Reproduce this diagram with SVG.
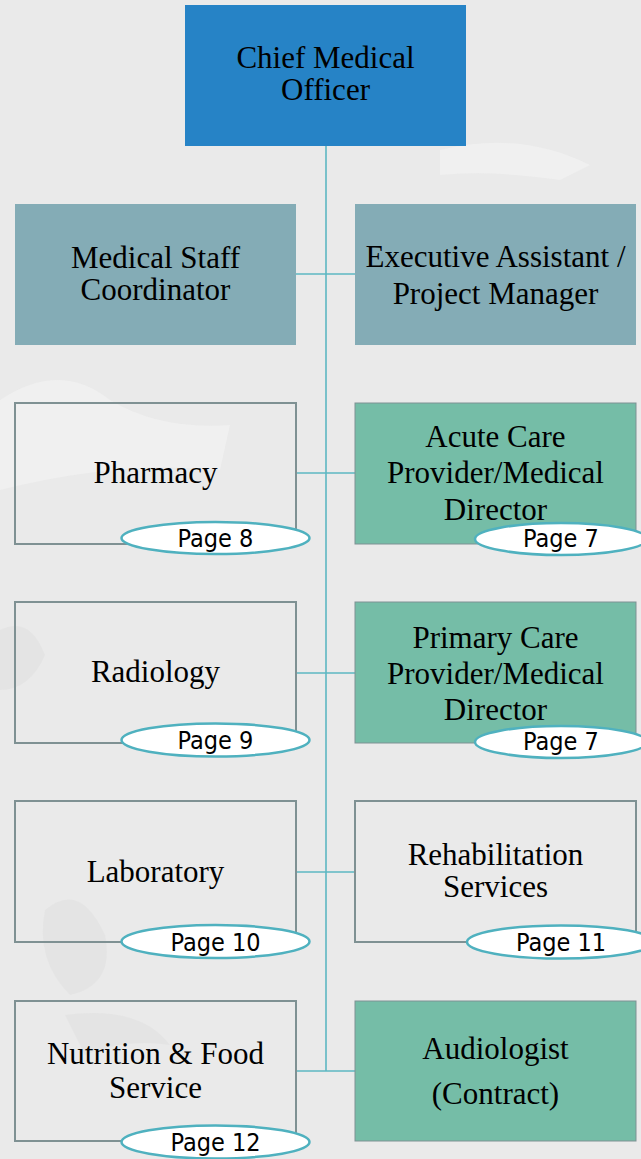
<svg xmlns="http://www.w3.org/2000/svg" width="641" height="1159" viewBox="0 0 641 1159">
<defs>
<style>
.bg{fill:#EAEAEA}
.blob{fill:#F3F3F3;opacity:0.6}
.dblob{fill:#DEDEDE;opacity:0.45}
.conn{stroke:#5DB7C2;stroke-width:1.6;fill:none}
.cmo{fill:#2683C6}
.blue{fill:#84ACB6}
.green{fill:#75BDA7;stroke:#7F9193;stroke-width:1}
.plain{fill:none;stroke:#7F9193;stroke-width:2}
.t{font-family:"Liberation Serif","Times New Roman",serif;font-size:31px;fill:#000;text-anchor:middle}
.pg{fill:#FFFFFF;stroke:#4FB1BF;stroke-width:2.5}
.pt{font-family:"DejaVu Sans Condensed","DejaVu Sans",sans-serif;font-stretch:condensed;font-size:25px;fill:#000;text-anchor:middle}
</style>
</defs>
<rect class="bg" x="0" y="0" width="641" height="1159"/>
<g id="background">
<path class="blob" d="M0 400 Q60 360 110 400 Q160 430 230 425 L220 470 Q120 460 0 490 Z"/>
<path class="blob" d="M440 150 Q520 130 590 165 L560 180 Q490 170 440 175 Z"/>
<path class="dblob" d="M45 910 Q80 880 105 935 Q115 985 70 995 Q35 960 45 910 Z"/>
<path class="dblob" d="M0 630 Q30 615 45 655 Q30 690 0 690 Z"/>
<path class="dblob" d="M65 1015 Q140 1005 170 1045 Q125 1038 85 1055 Z"/>
</g>
<g id="connectors">
<line class="conn" x1="326" y1="146" x2="326" y2="1071"/>
<line class="conn" x1="296" y1="274" x2="355" y2="274"/>
<line class="conn" x1="296" y1="473" x2="355" y2="473"/>
<line class="conn" x1="296" y1="673" x2="355" y2="673"/>
<line class="conn" x1="296" y1="872" x2="355" y2="872"/>
<line class="conn" x1="296" y1="1071" x2="355" y2="1071"/>
</g>
<g id="cmo">
<rect class="cmo" x="185" y="5" width="281" height="141"/>
<text class="t" x="325.5" y="68">Chief Medical</text>
<text class="t" x="325.5" y="100">Officer</text>
</g>
<g id="medical-staff-coordinator">
<rect class="blue" x="15" y="204" width="281" height="141"/>
<text class="t" x="155.5" y="268">Medical Staff</text>
<text class="t" x="155.5" y="300">Coordinator</text>
</g>
<g id="executive-assistant">
<rect class="blue" x="355" y="204" width="281" height="141"/>
<text class="t" x="495.5" y="267">Executive Assistant /</text>
<text class="t" x="495.5" y="304">Project Manager</text>
</g>
<g id="pharmacy">
<rect class="plain" x="15" y="403" width="281" height="141"/>
<text class="t" x="155.5" y="483">Pharmacy</text>
<ellipse class="pg" cx="215.5" cy="538" rx="94" ry="16"/>
<text class="pt" x="215.5" y="547">Page 8</text>
</g>
<g id="acute-care">
<rect class="green" x="355" y="403" width="281" height="141"/>
<text class="t" x="495.5" y="447">Acute Care</text>
<text class="t" x="495.5" y="483">Provider/Medical</text>
<text class="t" x="495.5" y="520">Director</text>
<ellipse class="pg" cx="561" cy="539" rx="86" ry="16"/>
<text class="pt" x="561" y="547">Page 7</text>
</g>
<g id="radiology">
<rect class="plain" x="15" y="602" width="281" height="141"/>
<text class="t" x="155.5" y="682">Radiology</text>
<ellipse class="pg" cx="215.5" cy="740" rx="94" ry="16.5"/>
<text class="pt" x="215.5" y="749">Page 9</text>
</g>
<g id="primary-care">
<rect class="green" x="355" y="602" width="281" height="141"/>
<text class="t" x="495.5" y="648">Primary Care</text>
<text class="t" x="495.5" y="684">Provider/Medical</text>
<text class="t" x="495.5" y="720">Director</text>
<ellipse class="pg" cx="561" cy="742" rx="86" ry="16"/>
<text class="pt" x="561" y="750">Page 7</text>
</g>
<g id="laboratory">
<rect class="plain" x="15" y="801" width="281" height="141"/>
<text class="t" x="155.5" y="882">Laboratory</text>
<ellipse class="pg" cx="215.5" cy="941.5" rx="94" ry="16.5"/>
<text class="pt" x="215.5" y="951">Page 10</text>
</g>
<g id="rehabilitation">
<rect class="plain" x="355" y="801" width="281" height="141"/>
<text class="t" x="495.5" y="865">Rehabilitation</text>
<text class="t" x="495.5" y="897">Services</text>
<ellipse class="pg" cx="561" cy="942" rx="94" ry="16.5"/>
<text class="pt" x="561" y="951">Page 11</text>
</g>
<g id="nutrition">
<rect class="plain" x="15" y="1001" width="281" height="140"/>
<text class="t" x="155.5" y="1064">Nutrition &amp; Food</text>
<text class="t" x="155.5" y="1098">Service</text>
<ellipse class="pg" cx="215.5" cy="1142" rx="94" ry="16.5"/>
<text class="pt" x="215.5" y="1151">Page 12</text>
</g>
<g id="audiologist">
<rect class="green" x="355" y="1001" width="281" height="140"/>
<text class="t" x="495.5" y="1059">Audiologist</text>
<text class="t" x="495.5" y="1104">(Contract)</text>
</g>
</svg>
